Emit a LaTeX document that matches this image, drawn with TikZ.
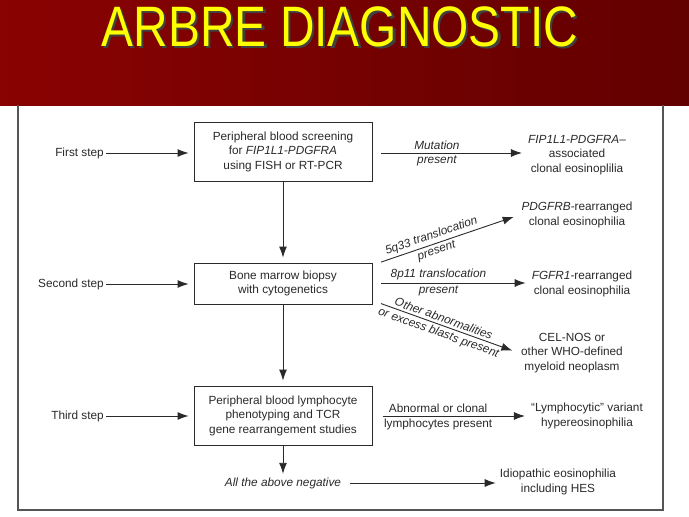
\documentclass[tikz,border=0pt]{standalone}
\usepackage{fontspec}
\setmainfont{Liberation Sans}
\usetikzlibrary{positioning, arrows.meta}
\definecolor{rouge}{HTML}{8A0202}
\definecolor{rougefonce}{HTML}{620000}
\definecolor{jaune}{HTML}{FFFF00}
\definecolor{trait}{HTML}{2A2A2A}
\definecolor{cadre}{HTML}{555555}

\begin{document}
\begin{tikzpicture}[x=1pt, y=-1pt,
    txt/.style={font=\fontsize{11.8}{14.5}\selectfont, text=trait},
    stepbox/.style={txt, draw=trait, line width=0.9pt, minimum width=178pt, align=center, inner sep=0pt},
    steplabel/.style={txt, anchor=east, inner sep=2pt},
    result/.style={txt, align=center, inner sep=2pt},
    cond/.style={txt, font=\fontsize{11.8}{14.5}\selectfont\itshape, inner sep=2.5pt},
    arr/.style={draw=trait, line width=0.9pt, -{Latex[length=11pt,width=8pt]}}]
  \useasboundingbox (0,0) rectangle (689,517);
  \fill[white] (0,0) rectangle (689,517);
  \shade[left color=rouge, right color=rougefonce] (0,0) rectangle (689,105);
  % title with its shadow
  \node[text=jaune, font=\fontsize{57}{57}\selectfont, xscale=0.84] (titre) at (340,28)
    {\makebox[0pt][l]{\kern2.5pt\raisebox{-2.5pt}{\color{black!75}ARBRE DIAGNOSTIC}}ARBRE DIAGNOSTIC};
  \draw[cadre, line width=1.3pt] (18,105) -- (18,510) -- (663,510) -- (663,105);

  % steps
  \node[stepbox, minimum height=59pt] (b1) at (283,151.5) {Peripheral blood screening\\for \textit{FIP1L1-PDGFRA}\\using FISH or RT-PCR};
  \node[stepbox, minimum height=41pt] (b2) at (283,283.5) {Bone marrow biopsy\\with cytogenetics};
  \node[stepbox, minimum height=59pt] (b3) at (283,415.5) {Peripheral blood lymphocyte\\phenotyping and TCR\\gene rearrangement studies};
  \node[cond] (neg) at (283,483) {All the above negative};

  \node[steplabel] (s1) at (106,153) {First step};
  \node[steplabel] (s2) at (106,284) {Second step};
  \node[steplabel] (s3) at (106,416) {Third step};

  % results
  \node[result] (r1) at (577,155) {\textit{FIP1L1-PDGFRA}–\\associated\\clonal eosinoplilia};
  \node[result] (r2) at (577,215) {\textit{PDGFRB}-rearranged\\clonal eosinophilia};
  \node[result] (r3) at (582,284) {\textit{FGFR1}-rearranged\\clonal eosinophilia};
  \node[result] (r4) at (572,353) {CEL-NOS or\\other WHO-defined\\myeloid neoplasm};
  \node[result] (r5) at (587,416) {“Lymphocytic” variant\\hypereosinophilia};
  \node[result] (r6) at (558,482) {Idiopathic eosinophilia\\including HES};

  \foreach \s/\b in {s1/b1, s2/b2, s3/b3}
    \draw[arr, shorten >=5pt] (\s) -- (\s -| \b.west);
  \draw[arr, shorten >=5pt] (b1) -- (b2);
  \draw[arr, shorten >=5pt] (b2) -- (b3);
  \draw[arr, shorten >=1pt] (b3) -- (neg);

  \draw[arr, shorten <=9pt, shorten >=4pt] (b1.east |- 0,153) -- (r1.west |- 0,153)
    node[cond, above, pos=0.42] {Mutation} node[cond, below, pos=0.42] {present};
  \draw[arr, shorten <=9pt, shorten >=6pt] ([yshift=18.5pt]b2.east) -- (r2.west)
    node[cond, above, sloped, pos=0.42] {5q33 translocation} node[cond, below, sloped, pos=0.42] {present};
  \draw[arr, shorten <=9pt, shorten >=4pt] (b2.east |- 0,283) -- (r3.west |- 0,283)
    node[cond, above, pos=0.42] {8p11 translocation} node[cond, below, pos=0.42] {present};
  \draw[arr, shorten <=9pt, shorten >=7pt] ([yshift=-17pt]b2.east) -- (r4.west)
    node[cond, above, sloped, pos=0.47] {Other abnormalities} node[cond, below, sloped, pos=0.47] {or excess blasts present};
  \draw[arr, shorten <=11pt, shorten >=4pt] (b3.east |- 0,416) -- (r5.west |- 0,416)
    node[txt, above, pos=0.42, inner sep=2.5pt] {Abnormal or clonal} node[txt, below, pos=0.42, inner sep=2.5pt] {lymphocytes present};
  \draw[arr, shorten <=6pt, shorten >=2pt] (neg) -- (neg -| r6.west);
\end{tikzpicture}
\end{document}
